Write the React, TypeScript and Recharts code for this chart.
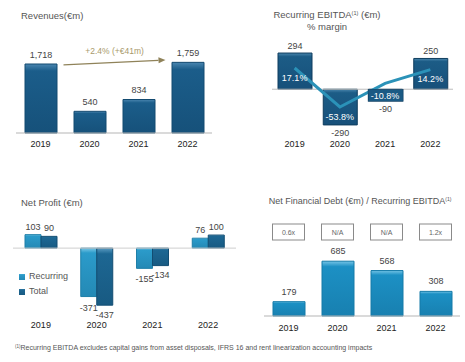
import React from 'react';
import {
  BarChart,
  Bar,
  XAxis,
  YAxis,
  LabelList,
  ReferenceLine,
  ComposedChart,
  Line,
  Legend,
} from 'recharts';

// ---------- data ----------
const years = ['2019', '2020', '2021', '2022'];
const revenues = [1718, 540, 834, 1759];
const ebitda = [294, -290, -90, 250];
const ebitdaMargin = [17.1, -53.8, -10.8, 14.2];
const netProfitRecurring = [103, -371, -155, 76];
const netProfitTotal = [90, -437, -134, 100];
const netDebt = [179, 685, 568, 308];
const leverage = ['0.6x', 'N/A', 'N/A', '1.2x'];
const growthLabel = '+2.4% (+€41m)';
const growthArrow = [1666, 1845];
const footnote =
  'Recurring  EBITDA excludes capital gains from asset disposals, IFRS 16 and rent linearization  accounting impacts';

const data = years.map((year, i) => ({
  year,
  revenue: revenues[i],
  ebitda: ebitda[i],
  margin: ebitdaMargin[i],
  recurring: netProfitRecurring[i],
  total: netProfitTotal[i],
  nfd: netDebt[i],
  leverage: leverage[i],
}));

const FONT = '"Liberation Sans", Arial, sans-serif';
const fmt = (v: number) => v.toLocaleString('en-US');

function makeValueLabel(above: number, below: number) {
  return (props: any) => {
    const vb = props.viewBox ?? props;
    const x = Number(vb.x ?? props.x);
    const y = Number(vb.y ?? props.y);
    const w = Number(vb.width ?? props.width ?? 0);
    const h = Number(vb.height ?? props.height ?? 0);
    const top = Math.min(y, y + h);
    const bottom = Math.max(y, y + h);
    const v = Number(props.value);
    const cx = x + w / 2;
    return (
      <text
        x={cx}
        y={v >= 0 ? top - above : bottom + below}
        textAnchor="middle"
        fontSize={9}
        fontFamily={FONT}
        fill="#444"
      >
        {fmt(v)}
      </text>
    );
  };
}

const marginLabel = (props: any) => {
  const vb = props.viewBox ?? props;
  const x = Number(vb.x ?? props.x);
  const y = Number(vb.y ?? props.y);
  const v = Number(props.value);
  const boxY = v < 0 && v > -20 ? y + 6 : y + 3;
  return (
    <g>
      {v < 0 && v > -20 ? (
        <rect x={x - 17} y={boxY} width={35} height={12} fill="#1b5a84" stroke="#0f3d5e" strokeWidth={0.6} />
      ) : null}
      <text x={x} y={boxY + 9.5} textAnchor="middle" fontSize={9} fontFamily={FONT} fill="#fff">
        {`${v.toFixed(1)}%`}
      </text>
    </g>
  );
};

const ArrowShape = (props: any) => {
  const { x1, y1, x2, y2 } = props;
  const sx = x1 + 23;
  const ex = x2 - 22;
  const slope = (y2 - y1) / (x2 - x1);
  const sy = y1 + slope * (sx - x1);
  const ey = y1 + slope * (ex - x1);
  const ang = Math.atan2(ey - sy, ex - sx);
  const L = 7;
  const W = 3;
  const bx = ex - L * Math.cos(ang);
  const by = ey - L * Math.sin(ang);
  const px = -Math.sin(ang) * W;
  const py = Math.cos(ang) * W;
  const mx = (sx + ex) / 2;
  const my = (sy + ey) / 2;
  return (
    <g>
      <line x1={sx} y1={sy} x2={bx} y2={by} stroke="#8f8259" strokeWidth={1.2} />
      <polygon
        points={`${ex},${ey} ${bx + px},${by + py} ${bx - px},${by - py}`}
        fill="#8f8259"
      />
      <text x={mx} y={my - 8} textAnchor="middle" fontSize={8.5} fontFamily={FONT} fill="#a8996b">
        {growthLabel}
      </text>
    </g>
  );
};

const LeverageTick = (props: any) => {
  const { x, y, payload } = props;
  return (
    <g>
      <rect x={x - 16} y={y - 12} width={32} height={16} fill="#fff" stroke="#8a8a8a" strokeWidth={1} />
      <text x={x} y={y - 1.5} textAnchor="middle" fontSize={7} fontFamily={FONT} fill="#666">
        {payload.value}
      </text>
    </g>
  );
};

const Grad = ({ id, light, base, dark }: { id: string; light: string; base: string; dark: string }) => (
  <linearGradient id={id} x1="0" y1="0" x2="0" y2="1">
    <stop offset="0" stopColor={light} />
    <stop offset="0.1" stopColor={base} />
    <stop offset="1" stopColor={dark} />
  </linearGradient>
);

const tickStyle = { fontSize: 9, fill: '#222', fontFamily: FONT };

const abs = (left: number, top: number): React.CSSProperties => ({
  position: 'absolute',
  left,
  top,
});

export default function App() {
  return (
    <div
      style={{
        position: 'absolute',
        left: 0,
        top: 0,
        width: 465,
        height: 362,
        background: '#fff',
        fontFamily: FONT,
        overflow: 'hidden',
      }}
    >
      {/* Revenues */}
      <div style={abs(0, 0)}>
        <BarChart width={232} height={160} data={data} margin={{ top: 53, right: 20, bottom: 0, left: 16 }}>
          <defs>
            <Grad id="gRev" light="#4a86b0" base="#1b5d8a" dark="#16517a" />
          </defs>
          <XAxis
            dataKey="year"
            height={27}
            axisLine={{ stroke: '#b5b5b5' }}
            tickLine={false}
            tickSize={0}
            tickMargin={8}
            tick={tickStyle}
          />
          <YAxis hide domain={[0, 1992]} />
          <Bar dataKey="revenue" fill="url(#gRev)" stroke="#134a70" barSize={32} isAnimationActive={false}>
            <LabelList dataKey="revenue" content={makeValueLabel(6.5, 11)} />
          </Bar>
          <ReferenceLine
            segment={[
              { x: years[0], y: growthArrow[0] },
              { x: years[3], y: growthArrow[1] },
            ]}
            ifOverflow="visible"
            shape={ArrowShape}
          />
        </BarChart>
      </div>

      {/* Recurring EBITDA */}
      <div style={abs(232, 0)}>
        <ComposedChart width={233} height={160} data={data} margin={{ top: 40, right: 12, bottom: 0, left: 40 }}>
          <defs>
            <Grad id="gEb" light="#4a86ad" base="#1c5c86" dark="#17507a" />
          </defs>
          <XAxis
            dataKey="year"
            height={24}
            axisLine={false}
            tickLine={false}
            tickSize={0}
            tickMargin={5}
            tick={tickStyle}
          />
          <YAxis yAxisId="left" hide domain={[-380, 400]} />
          <YAxis yAxisId="right" hide orientation="right" domain={[-106.5, 68]} />
          <ReferenceLine yAxisId="left" y={0} stroke="#bdbdbd" />
          <Bar yAxisId="left" dataKey="ebitda" fill="url(#gEb)" stroke="#0f3d5e" barSize={34} isAnimationActive={false}>
            <LabelList dataKey="ebitda" content={makeValueLabel(4, 11.5)} />
          </Bar>
          <Line
            yAxisId="right"
            dataKey="margin"
            type="linear"
            stroke="#2b92b8"
            strokeWidth={3}
            dot={false}
            isAnimationActive={false}
          >
            <LabelList dataKey="margin" content={marginLabel} />
          </Line>
        </ComposedChart>
      </div>

      {/* Net Profit */}
      <div style={abs(0, 160)}>
        <BarChart
          width={240}
          height={180}
          data={data}
          margin={{ top: 62, right: 4, bottom: 0, left: 13 }}
          barGap={0}
        >
          <defs>
            <Grad id="gRec" light="#7cc8e6" base="#2b9bca" dark="#2489b5" />
            <Grad id="gTot" light="#5a9cc2" base="#1d6793" dark="#185a82" />
          </defs>
          <XAxis
            dataKey="year"
            height={24}
            axisLine={false}
            tickLine={false}
            tickSize={0}
            tickMargin={6}
            tick={tickStyle}
          />
          <YAxis hide domain={[-520, 200]} />
          <ReferenceLine y={0} stroke="#cfcfcf" />
          <Bar dataKey="recurring" name="Recurring" fill="url(#gRec)" stroke="#1f7fa8" barSize={16} isAnimationActive={false}>
            <LabelList dataKey="recurring" content={makeValueLabel(5, 14)} />
          </Bar>
          <Bar dataKey="total" name="Total" fill="url(#gTot)" stroke="#124d72" barSize={16} isAnimationActive={false}>
            <LabelList dataKey="total" content={makeValueLabel(5, 12.5)} />
          </Bar>
          <Legend
            layout="vertical"
            align="center"
            verticalAlign="middle"
            iconType="square"
            iconSize={6}
            wrapperStyle={{ left: 19, top: 109, fontSize: 9, lineHeight: '15px', fontFamily: FONT }}
            formatter={(value: any) => <span style={{ color: '#555' }}>{value}</span>}
          />
        </BarChart>
      </div>

      {/* Net Financial Debt */}
      <div style={abs(232, 160)}>
        <BarChart width={233} height={180} data={data} margin={{ top: 44, right: 5, bottom: 0, left: 32 }}>
          <defs>
            <Grad id="gNfd" light="#74c4e6" base="#1c90c4" dark="#1880b0" />
          </defs>
          <XAxis
            xAxisId="lev"
            dataKey="leverage"
            orientation="top"
            height={32}
            axisLine={false}
            tickLine={false}
            tickSize={0}
            tickMargin={0}
            tick={<LeverageTick />}
            interval={0}
          />
          <XAxis
            dataKey="year"
            height={24}
            axisLine={{ stroke: '#b5b5b5' }}
            tickLine={false}
            tickSize={0}
            tickMargin={9}
            tick={tickStyle}
          />
          <YAxis hide domain={[0, 1000]} />
          <Bar dataKey="nfd" fill="url(#gNfd)" stroke="#147aa8" barSize={32} isAnimationActive={false}>
            <LabelList dataKey="nfd" content={makeValueLabel(7, 11)} />
          </Bar>
        </BarChart>
      </div>

      {/* Titles */}
      <div style={{ ...abs(21, 10), fontSize: 9.5, lineHeight: '12px', color: '#555' }}>Revenues(€m)</div>
      <div
        style={{
          ...abs(247, 9),
          width: 160,
          textAlign: 'center',
          fontSize: 9.5,
          lineHeight: '12px',
          color: '#555',
        }}
      >
        Recurring EBITDA<sup style={{ fontSize: 5.5, verticalAlign: 'top', lineHeight: '8px' }}>(1)</sup> (€m)
        <br />% margin
      </div>
      <div style={{ ...abs(21, 197), fontSize: 9.5, lineHeight: '12px', color: '#555' }}>Net Profit (€m)</div>
      <div
        style={{
          ...abs(255, 195),
          width: 210,
          textAlign: 'center',
          fontSize: 9,
          lineHeight: '12px',
          color: '#555',
          whiteSpace: 'nowrap',
        }}
      >
        Net Financial Debt (€m) / Recurring EBITDA
        <sup style={{ fontSize: 5, verticalAlign: 'top', lineHeight: '8px' }}>(1)</sup>
      </div>
      <div style={{ ...abs(15, 344), fontSize: 7, lineHeight: '8px', color: '#555', whiteSpace: 'nowrap' }}>
        <sup style={{ fontSize: 4.5, verticalAlign: 'top', lineHeight: '6px' }}>(1)</sup>
        {footnote}
      </div>
    </div>
  );
}
